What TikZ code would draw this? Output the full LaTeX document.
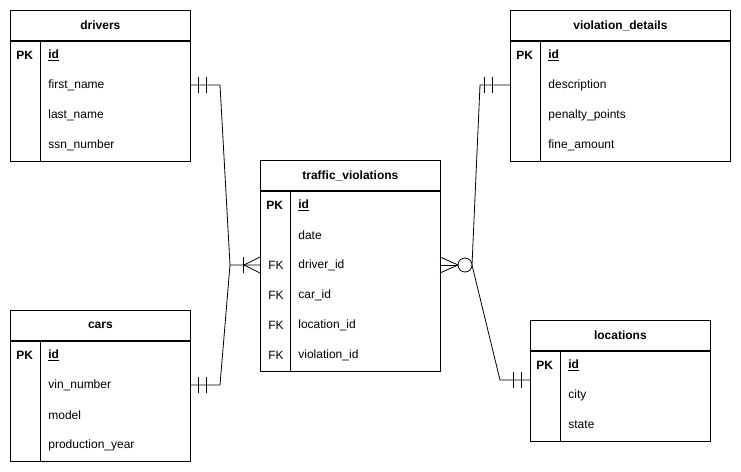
\documentclass[tikz,border=0pt]{standalone}
\usepackage{fontspec}
\setmainfont{Liberation Sans}
\usetikzlibrary{positioning,calc}
\tikzset{
  box/.style={draw,rectangle,inner sep=0pt,minimum width=180pt},
  hdr/.style={box,minimum height=30pt},
  bold/.style={font=\fontsize{12}{14}\selectfont\bfseries},
  key/.style={bold,anchor=west,inner sep=0pt},
  fld/.style={anchor=west,inner sep=0pt}
}
% frame of one table: name, left, top, width, rows below PK
\newcommand{\ertab}[5]{
  \node[hdr,anchor=north west,minimum width=#4pt] (#1) at (#2,#3) {};
  \node[box,anchor=north west,minimum width=#4pt,minimum height=#5*30pt+30pt] (#1b) at (#1.south west) {};
  \draw (#1b.north west) ++(0,-30) -- +(#4,0);
  \draw (#1b.north west) ++(30,0) -- (#1b.south west -| {$(#1b.north west)+(30,0)$});
}
\begin{document}
\begin{tikzpicture}[x=1pt,y=-1pt,line width=0.8pt,font=\fontsize{12}{14}\selectfont]
\useasboundingbox (0,0) rectangle (741,471);
% drivers
\ertab{drv}{10}{10}{180}{3}
\node[bold] at (drv) {drivers};
\node[key] at (16,55) {PK};
\node[key] (drvid) at (48,55) {\underline{id}};
\node[fld] (drvfn) at (48,85) {first\_name};
\node[fld] at (48,115) {last\_name};
\node[fld] at (48,145) {ssn\_number};
% cars
\ertab{car}{10}{310}{180}{3}
\node[bold] at (car) {cars};
\node[key] at (16,355) {PK};
\node[key] at (48,355) {\underline{id}};
\node[fld] (carvin) at (48,385) {vin\_number};
\node[fld] at (48,415) {model};
\node[fld] at (48,445) {production\_year};
% traffic_violations
\ertab{tv}{260}{160}{180}{5}
\node[bold] at (tv) {traffic\_violations};
\node[key] at (266,205) {PK};
\node[key] at (298,205) {\underline{id}};
\node[fld] at (298,235) {date};
\node[fld] at (268,265) {FK};
\node[fld] (tvdrv) at (298,265) {driver\_id};
\node[fld] at (268,295) {FK};
\node[fld] at (298,295) {car\_id};
\node[fld] at (268,325) {FK};
\node[fld] at (298,325) {location\_id};
\node[fld] at (268,355) {FK};
\node[fld] at (298,355) {violation\_id};
% violation_details
\ertab{vd}{510}{10}{220}{3}
\node[bold] at (vd) {violation\_details};
\node[key] at (516,55) {PK};
\node[key] at (548,55) {\underline{id}};
\node[fld] at (548,85) {description};
\node[fld] at (548,115) {penalty\_points};
\node[fld] at (548,145) {fine\_amount};
% locations
\ertab{loc}{530}{320}{180}{2}
\node[bold] at (loc) {locations};
\node[key] at (536,365) {PK};
\node[key] at (568,365) {\underline{id}};
\node[fld] at (568,395) {city};
\node[fld] at (568,425) {state};
% relations
\coordinate (jl) at (230,265);
\coordinate (jr) at (472,265);
\draw (190,85) -- (220,85) -- (jl) -- (260,265);
\draw (190,385) -- (220,385) -- (jl);
\foreach \x in {198,206} {
  \draw (\x,77) -- (\x,93);
  \draw (\x,377) -- (\x,393);
}
\draw (243,257) -- (243,273);
\draw (260,257) -- (244,265) -- (260,273);
\draw (510,85) -- (480,85) -- (jr) -- (500,380) -- (530,380);
\foreach \x in {484,492} \draw (\x,77) -- (\x,93);
\foreach \x in {513,521} \draw (\x,372) -- (\x,388);
\draw (440,265) -- (458,265);
\draw (440,257) -- (458,265) -- (440,273);
\draw[fill=white] (465,265) circle (7);
\end{tikzpicture}
\end{document}
